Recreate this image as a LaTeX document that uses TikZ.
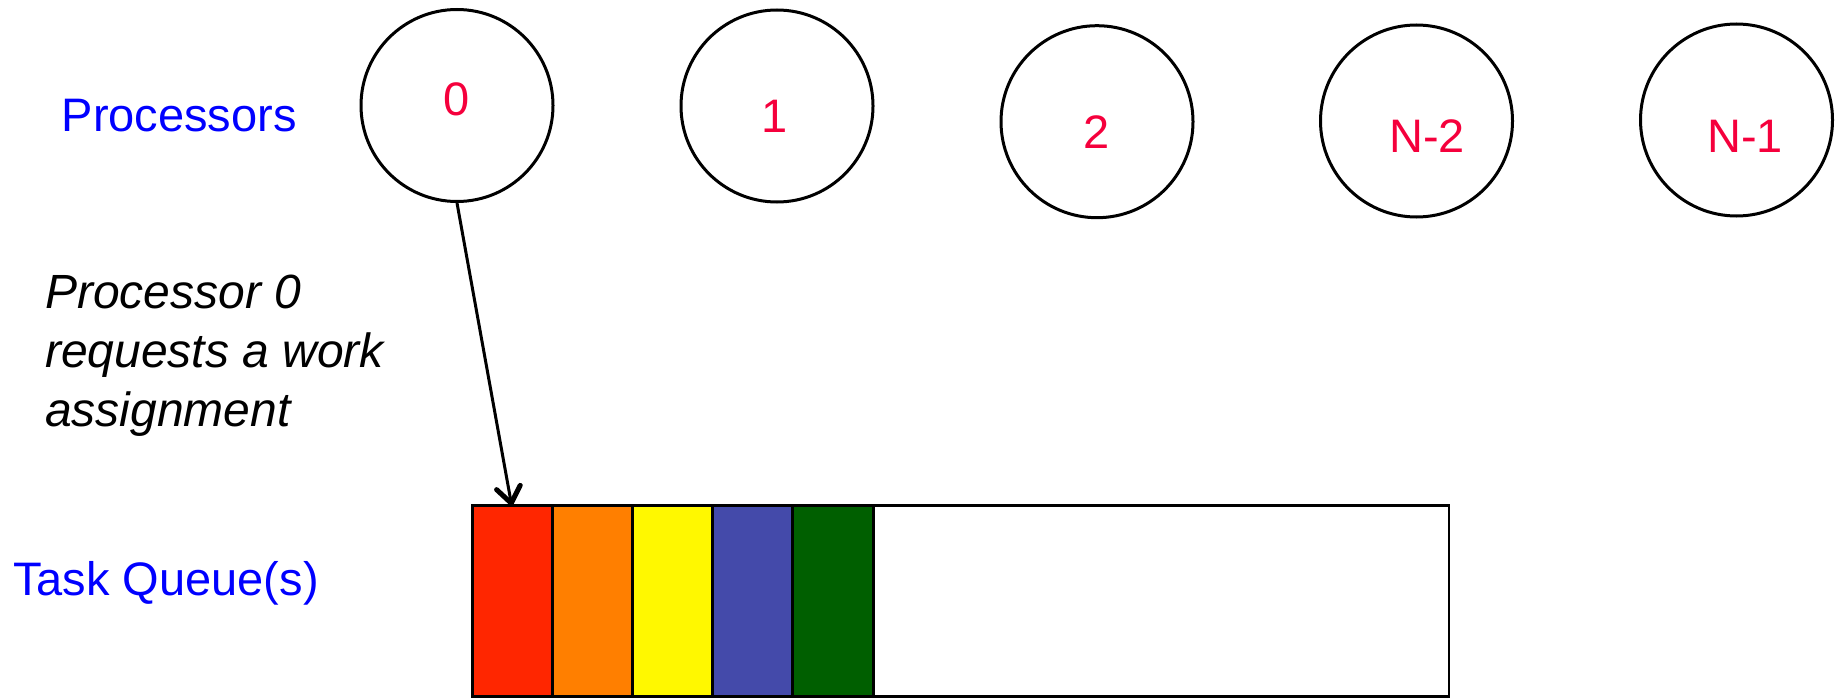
\documentclass[tikz,border=0pt]{standalone}
\usepackage{fontspec}
\setmainfont{Liberation Sans}
\usetikzlibrary{arrows.meta}
\definecolor{numred}{HTML}{F5003C}
\definecolor{labblue}{HTML}{0000FF}
\definecolor{qred}{HTML}{FF2600}
\definecolor{qorange}{HTML}{FF7F00}
\definecolor{qyellow}{HTML}{FFF800}
\definecolor{qblue}{HTML}{444AAA}
\definecolor{qgreen}{HTML}{005F00}
\begin{document}
\begin{tikzpicture}[x=1pt,y=-1pt,
  proc/.style={circle,draw=black,line width=3pt,minimum size=192pt,inner sep=0pt},
  num/.style={text=numred,font=\fontsize{47}{56}\selectfont,anchor=base,inner sep=0pt},
  lbl/.style={text=labblue,font=\fontsize{47}{56}\selectfont,anchor=base west,inner sep=0pt},
  note/.style={text=black,font=\fontsize{48}{59}\selectfont\itshape,align=left,anchor=base west,inner sep=0pt},
  cell/.style={draw=black,line width=2.5pt,minimum height=191pt,anchor=north west,inner sep=0pt,outer sep=0pt},
  arr/.style={line width=3pt,-{Straight Barb[length=16pt,width=24pt,line width=5pt,round]}}]
\useasboundingbox (0,0) rectangle (1843,698);

% processors
\node[proc] (c0) at (457,105.5) {};
\node[proc] (c1) at (777,106) {};
\node[proc] (c2) at (1097,121.7) {};
\node[proc] (c3) at (1416.5,121) {};
\node[proc] (c4) at (1736.5,120) {};
\node[num] (n0) at (457,116) {0};
\node[num] (n1) at (775,132.3) {1};
\node[num] (n2) at (1097,148) {2};
\node[num] (n3) at (1427,152) {N-2};
\node[num] (n4) at (1745,152) {N-1};

% labels
\node[lbl] (lp) at (61.5,131.7) {Processors};
\node[lbl] (lq) at (13,595) {Task Queue(s)};
\node[note] (req) at (45,426.5) {Processor 0\\requests a work\\assignment};

% task queue
\node[cell,fill=qred,minimum width=79.6pt] (q1) at (472.7,505.7) {};
\node[cell,fill=qorange,minimum width=80.4pt] (q2) at (q1.north east) {};
\node[cell,fill=qyellow,minimum width=79.6pt] (q3) at (q2.north east) {};
\node[cell,fill=qblue,minimum width=80.4pt] (q4) at (q3.north east) {};
\node[cell,fill=qgreen,minimum width=80.6pt] (q5) at (q4.north east) {};
\node[cell,fill=white,minimum width=575.7pt] (q6) at (q5.north east) {};

% request arrow
\coordinate (tip) at (511.7,505.7);
\draw[arr] (c0.south) -- (tip);
\end{tikzpicture}
\end{document}
